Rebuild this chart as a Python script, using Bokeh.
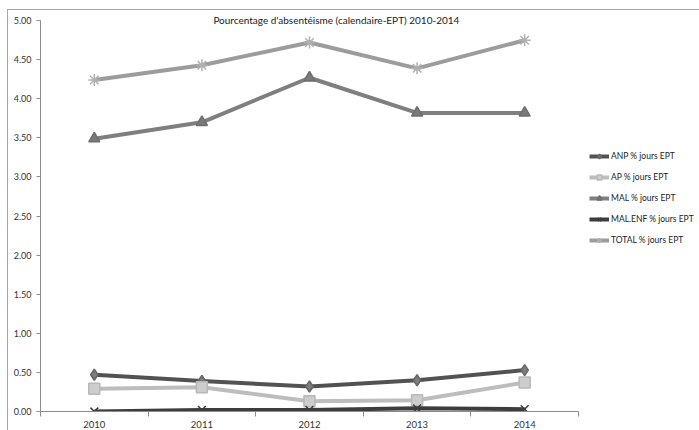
from bokeh.plotting import figure
from bokeh.models import (Range1d, FixedTicker, Legend, LegendItem, Label,
                          PrintfTickFormatter, InlineStyleSheet)
from bokeh.embed import file_html
from bokeh.resources import INLINE

years = [2010, 2011, 2012, 2013, 2014]
anp = [0.47, 0.39, 0.32, 0.40, 0.53]
ap = [0.29, 0.31, 0.13, 0.145, 0.37]
mal = [3.49, 3.70, 4.27, 3.82, 3.82]
mal_enf = [0.00, 0.02, 0.02, 0.04, 0.03]
total = [4.24, 4.43, 4.72, 4.39, 4.75]

series_names = ["ANP % jours EPT", "AP % jours EPT", "MAL % jours EPT",
                "MAL.ENF % jours EPT", "TOTAL % jours EPT"]
title_text = "Pourcentage d'absentéisme (calendaire-EPT) 2010-2014"
y_ticks = [0, 0.5, 1, 1.5, 2, 2.5, 3, 3.5, 4, 4.5, 5]

FONT = "Lato"

# frame spans to the right edge so the legend (drawn inside the frame) is not clipped;
# axis bounds keep the axis lines to the data area
p = figure(width=699, height=430, output_backend="svg", toolbar_location=None,
           x_range=Range1d(2009.5, 2015.625), y_range=Range1d(0, 5.13),
           min_border_left=40, min_border_right=0, min_border_top=10,
           min_border_bottom=17)
p.stylesheets = [InlineStyleSheet(css=(
    ":host::after { content: ''; position: absolute; left: 7px; top: 9px; "
    "right: 0; bottom: 0; border-top: 1.5px solid #a6a6a6; "
    "border-left: 1.5px solid #a6a6a6; pointer-events: none; }"))]
p.outline_line_color = None
p.xgrid.grid_line_color = None
p.ygrid.grid_line_color = None
p.background_fill_color = "white"
p.border_fill_color = "white"

# x axis
xa = p.xaxis[0]
xa.bounds = (years[0] - 0.5, years[-1] + 0.5)
xa.ticker = FixedTicker(ticks=years, minor_ticks=[y - 0.5 for y in years] + [years[-1] + 0.5])
xa.major_tick_line_color = None
xa.major_tick_out = 0
xa.major_tick_in = 0
xa.minor_tick_out = 5
xa.minor_tick_in = 0
xa.minor_tick_line_color = "#8c8c8c"
xa.axis_line_color = "#8c8c8c"
xa.major_label_standoff = 4
xa.major_label_text_font = FONT
xa.major_label_text_font_size = "9.5px"
xa.major_label_text_color = "#333333"

ya = p.yaxis[0]
ya.ticker = FixedTicker(ticks=y_ticks)
ya.bounds = (0, 5)
ya.formatter = PrintfTickFormatter(format="%.2f")
ya.minor_tick_line_color = None
ya.major_tick_out = 4
ya.major_tick_in = 0
ya.major_tick_line_color = "#8c8c8c"
ya.axis_line_color = "#8c8c8c"
ya.major_label_standoff = 5
ya.major_label_text_font = FONT
ya.major_label_text_font_size = "9px"
ya.major_label_text_color = "#333333"

items = []

def add_series(vals, name, lcolor, marker, mfill, mline, msize, lw=4):
    lr = p.line(years, vals, line_color=lcolor, line_width=lw)
    mr = p.scatter(years, vals, marker=marker, size=msize, fill_color=mfill,
                   line_color=mline, line_width=1.5)
    items.append(LegendItem(label=name, renderers=[lr, mr]))

add_series(anp, series_names[0], "#525252", "diamond", "#7c7c7c", "#666666", 11)
add_series(ap, series_names[1], "#bdbdbd", "square", "#cdcdcd", "#b8b8b8", 11)
add_series(mal, series_names[2], "#7f7f7f", "triangle", "#7a7a7a", "#6e6e6e", 11)
add_series(mal_enf, series_names[3], "#3d3d3d", "x", "#3d3d3d", "#3d3d3d", 11)
add_series(total, series_names[4], "#9c9c9c", "asterisk", "#b0b0b0", "#b0b0b0", 12)

legend = Legend(items=items, location=(549, 165), orientation="vertical",
                label_text_font=FONT, label_text_font_size="8.5px",
                label_text_color="#222222", glyph_width=20, glyph_height=12,
                label_height=12, label_standoff=2, spacing=9, padding=0,
                margin=0, border_line_color=None, background_fill_alpha=0)
p.add_layout(legend, "center")

title = Label(x=2012.25, y=5.01, text=title_text, text_align="center",
              text_baseline="middle", text_font=FONT, text_font_size="10px",
              text_color="#1a1a1a")
p.add_layout(title)

open("out.html", "w").write(file_html(p, INLINE))
